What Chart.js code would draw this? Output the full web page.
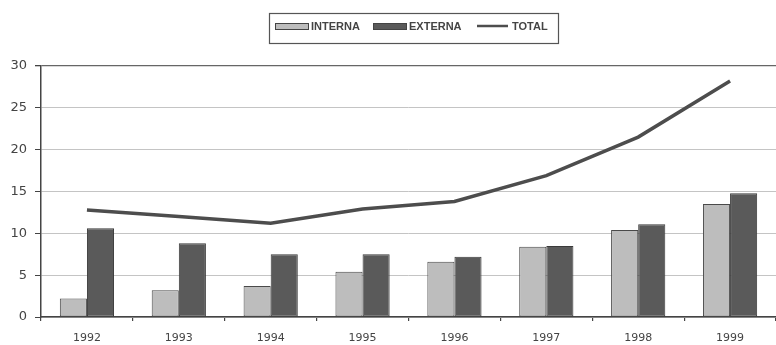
<!DOCTYPE html>
<html>
<head>
<meta charset="utf-8">
<script src="https://cdn.jsdelivr.net/npm/chart.js@4/dist/chart.umd.min.js"></script>
<style>
  html, body { margin: 0; padding: 0; background: #ffffff; }
  #wrap { width: 776px; height: 345px; }
</style>
</head>
<body>
<div id="wrap"><canvas id="c" width="776" height="345"></canvas></div>
<script>
// Years on the category axis
const years = ['1992', '1993', '1994', '1995', '1996', '1997', '1998', '1999'];
// Domestic (interna) and foreign (externa) amounts
const interna = [2.2, 3.2, 3.7, 5.4, 6.6, 8.4, 10.4, 13.5];
const externa = [10.6, 8.8, 7.5, 7.5, 7.2, 8.5, 11.1, 14.8];
// Combined total
const total = [12.8, 12.0, 11.2, 12.9, 13.8, 16.9, 21.5, 28.2];
// Value axis ticks
const yTicks = [0, 5, 10, 15, 20, 25, 30];

const colInterna = '#bdbdbd';
const colExterna = '#5a5a5a';
const colTotal = '#4d4d4d';
const colText = '#444444';

// Boxed legend drawn above the plot
const boxedLegend = {
  id: 'boxedLegend',
  afterDraw(chart) {
    const ctx = chart.ctx;
    ctx.save();
    ctx.strokeStyle = '#555';
    ctx.lineWidth = 1.2;
    ctx.strokeRect(269.5, 13.5, 289, 30);
    ctx.font = 'bold 11px "Liberation Sans", Arial, sans-serif';
    ctx.textBaseline = 'middle';
    ctx.fillStyle = colText;
    const items = [
      { kind: 'box', fill: colInterna, x: 275, label: chart.data.datasets[0].label },
      { kind: 'box', fill: colExterna, x: 373, label: chart.data.datasets[1].label },
      { kind: 'line', fill: colTotal, x: 477, label: chart.data.datasets[2].label }
    ];
    const cy = 26;
    items.forEach(it => {
      if (it.kind === 'box') {
        ctx.fillStyle = it.fill;
        ctx.fillRect(it.x, cy - 3, 33, 6);
        ctx.strokeStyle = '#444';
        ctx.lineWidth = 1;
        ctx.strokeRect(it.x + 0.5, cy - 2.5, 33, 6);
        ctx.fillStyle = colText;
        ctx.fillText(it.label, it.x + 36, cy + 0.5);
      } else {
        ctx.strokeStyle = it.fill;
        ctx.lineWidth = 2.5;
        ctx.beginPath();
        ctx.moveTo(it.x, cy);
        ctx.lineTo(it.x + 31, cy);
        ctx.stroke();
        ctx.fillStyle = colText;
        ctx.fillText(it.label, it.x + 35, cy + 0.5);
      }
    });
    ctx.restore();
  }
};

const whiteBg = {
  id: 'whiteBg',
  beforeDraw(chart) {
    const ctx = chart.ctx;
    ctx.save();
    ctx.fillStyle = '#ffffff';
    ctx.fillRect(0, 0, chart.width, chart.height);
    ctx.restore();
  }
};

new Chart(document.getElementById('c'), {
  type: 'bar',
  data: {
    labels: years,
    datasets: [
      {
        label: 'INTERNA',
        data: interna,
        backgroundColor: colInterna,
        borderColor: '#4a4a4a',
        borderWidth: 1,
        borderSkipped: false,
        categoryPercentage: 0.59,
        barPercentage: 1.0,
        order: 2
      },
      {
        label: 'EXTERNA',
        data: externa,
        backgroundColor: colExterna,
        borderColor: '#3a3a3a',
        borderWidth: 1,
        borderSkipped: false,
        categoryPercentage: 0.59,
        barPercentage: 1.0,
        order: 2
      },
      {
        type: 'line',
        label: 'TOTAL',
        data: total,
        borderColor: colTotal,
        borderWidth: 3.5,
        pointRadius: 0,
        tension: 0,
        fill: false,
        order: 1
      }
    ]
  },
  options: {
    responsive: false,
    animation: false,
    layout: { padding: { top: 66, left: 0, right: 0, bottom: 0 } },
    plugins: {
      legend: { display: false },
      tooltip: { enabled: false }
    },
    scales: {
      x: {
        offset: true,
        grid: {
          offset: true,
          drawOnChartArea: false,
          drawTicks: true,
          tickLength: 4,
          color: '#444',
          lineWidth: 1.2
        },
        border: { display: true, color: '#444', width: 1.5 },
        ticks: {
          padding: 11,
          color: colText,
          font: { family: '"DejaVu Sans", sans-serif', size: 11 },
          maxRotation: 0
        },
        afterFit(scale) { scale.height = 28; }
      },
      y: {
        min: 0,
        max: 30,
        afterBuildTicks(scale) { scale.ticks = yTicks.map(v => ({ value: v })); },
        grid: {
          color: ctx => (ctx.tick && ctx.tick.value === 30) ? '#666' : '#c4c4c4',
          lineWidth: ctx => (ctx.tick && ctx.tick.value === 30) ? 1.3 : 1,
          tickColor: '#444',
          tickLength: 6
        },
        border: { display: true, color: '#444', width: 1.5 },
        ticks: {
          padding: 8,
          color: colText,
          font: { family: '"DejaVu Sans", sans-serif', size: 13 }
        },
        afterFit(scale) { scale.width = 41; }
      }
    }
  },
  plugins: [whiteBg, boxedLegend]
});
</script>
</body>
</html>
